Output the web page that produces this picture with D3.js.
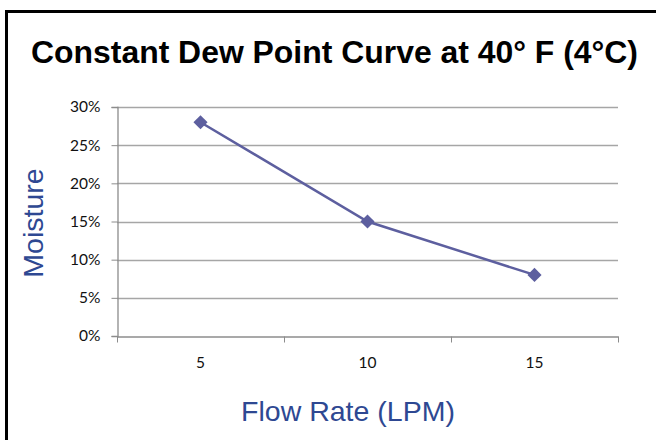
<!DOCTYPE html>
<html>
<head>
<meta charset="utf-8">
<script src="https://cdn.jsdelivr.net/npm/d3@7"></script>
<style>
  body { margin: 0; background: #fff; }
</style>
</head>
<body>
<script>
let width = 656;
let height = 440;

// chart data
let flowRates = ["5", "10", "15"];
let moisture = [0.28, 0.15, 0.08];
let yTicks = [0, 0.05, 0.10, 0.15, 0.20, 0.25, 0.30];

let titleText = "Constant Dew Point Curve at 40\u00B0 F (4\u00B0C)";
let xTitle = "Flow Rate (LPM)";
let yTitle = "Moisture";

let svg = d3.select("body")
            .append("svg")
            .attr("width", width)
            .attr("height", height);

// outer frame (right/bottom edges fall outside the picture)
svg.append("rect")
    .attr("x", 6.5)
    .attr("y", 11.5)
    .attr("width", 700)
    .attr("height", 500)
    .style("fill", "#fff")
    .style("stroke", "#000")
    .style("stroke-width", 3);

let plot = { left: 117, right: 618, top: 107, bottom: 336 };

let x = d3.scaleBand()
    .domain(flowRates)
    .range([plot.left, plot.right]);

let y = d3.scaleLinear()
    .domain([0, 0.30])
    .range([plot.bottom, plot.top]);

// gridlines
svg.append("g")
    .selectAll("line")
    .data(yTicks.slice(1))
    .join("line")
    .attr("x1", plot.left)
    .attr("x2", plot.right)
    .attr("y1", d => Math.round(y(d)) + 0.5)
    .attr("y2", d => Math.round(y(d)) + 0.5)
    .style("stroke", "#a6a6a6")
    .style("stroke-width", 1.3);

// y axis
let yAxis = svg.append("g")
    .attr("transform", `translate(${plot.left + 0.5},0)`)
    .call(d3.axisLeft(y).tickValues(yTicks).tickFormat(d3.format(".0%")).tickSizeOuter(0).tickSize(6).tickPadding(11));

// x axis with ticks on category boundaries
let xAxis = svg.append("g")
    .attr("transform", `translate(0,${plot.bottom + 0.5})`)
    .call(d3.axisBottom(x).tickSize(0).tickPadding(20));

xAxis.selectAll(".boundary")
    .data([0, 1, 2, 3])
    .join("line")
    .attr("class", "boundary")
    .attr("x1", i => plot.left + i * x.step() + 0.5)
    .attr("x2", i => plot.left + i * x.step() + 0.5)
    .attr("y1", 0)
    .attr("y2", 6)
    .style("stroke", "#8c8c8c");

[yAxis, xAxis].forEach(a => {
    a.select(".domain").style("stroke", "#8c8c8c").style("stroke-width", 1.3);
    a.selectAll(".tick line").style("stroke", "#8c8c8c");
    a.selectAll("text")
        .style("font-family", "Lato, 'Open Sans', sans-serif")
        .style("font-size", "15.5px")
        .style("fill", "#111");
});

// series line
let line = d3.line()
    .x((d, i) => x(flowRates[i]) + x.bandwidth() / 2)
    .y(d => y(d));

svg.append("path")
    .attr("d", line(moisture))
    .style("fill", "none")
    .style("stroke", "#5d5f9f")
    .style("stroke-width", 2.5);

svg.append("g")
    .selectAll("path")
    .data(moisture)
    .join("path")
    .attr("d", d3.symbol().type(d3.symbolSquare).size(100))
    .attr("transform", (d, i) => `translate(${x(flowRates[i]) + x.bandwidth() / 2},${y(d)}) rotate(45)`)
    .style("fill", "#5d5f9f");

// titles
svg.append("text")
    .attr("x", 31)
    .attr("y", 63)
    .attr("textLength", 607)
    .attr("lengthAdjust", "spacingAndGlyphs")
    .style("font-family", "'Liberation Sans', Arial, sans-serif")
    .style("font-weight", "bold")
    .style("font-size", "32px")
    .text(titleText);

svg.append("text")
    .attr("x", 348)
    .attr("y", 421)
    .attr("text-anchor", "middle")
    .style("font-family", "'Liberation Sans', Arial, sans-serif")
    .style("font-size", "28.5px")
    .style("fill", "#2e4892")
    .text(xTitle);

svg.append("text")
    .attr("transform", "translate(43,223) rotate(-90)")
    .attr("text-anchor", "middle")
    .style("font-family", "'Liberation Sans', Arial, sans-serif")
    .style("font-size", "28.5px")
    .style("fill", "#2e4892")
    .text(yTitle);
</script>
</body>
</html>
